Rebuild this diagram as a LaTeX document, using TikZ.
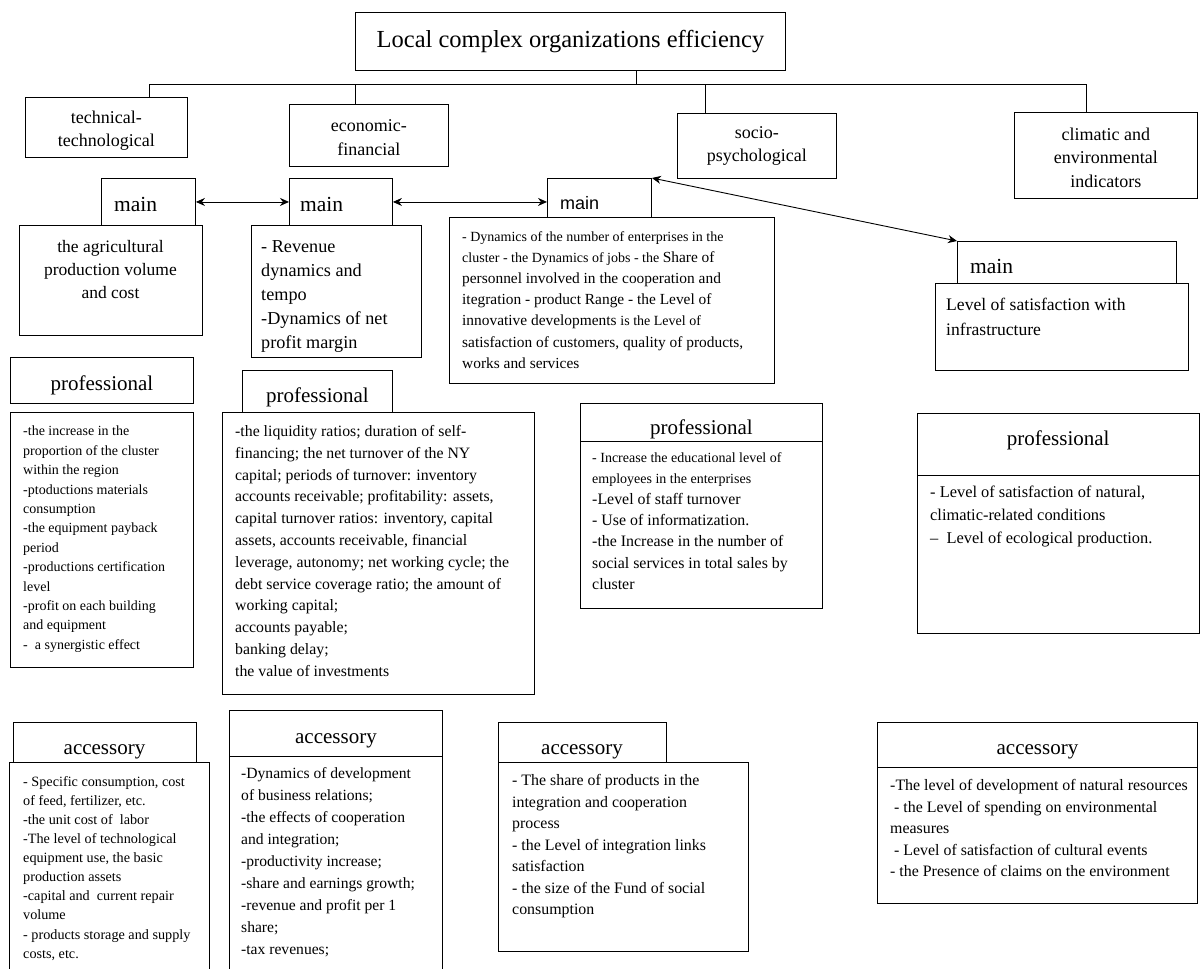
\documentclass[tikz,border=0pt]{standalone}
\usepackage{fontspec}
\setmainfont{Liberation Serif}
\newfontfamily\sansmain{Liberation Sans}
\usetikzlibrary{arrows.meta}
\newcommand\fs[2]{\fontsize{#1}{#2}\selectfont}
\newcommand\dn[2]{\raisebox{-#1pt}[\height][\depth]{#2}}
\newcommand\bx[7][]{%
  \pgfmathsetmacro\bw{#5-#3}\pgfmathsetmacro\bh{#6-#4}%
  \node[box,minimum width=\bw pt,minimum height=\bh pt,#1] (#2) at (#3,#4) {#7};}
\begin{document}
\begin{tikzpicture}[x=1pt,y=-1pt,
  box/.style={draw,line width=0.9pt,inner sep=0pt,anchor=north west,fill=white,align=center},
  hd/.style={font=\fs{18}{23.5}},
  pf/.style={font=\fs{21}{24}},
  mn/.style={anchor=base west,inner sep=0pt,font=\fs{21.5}{24}},
  txt/.style={anchor=north west,inner sep=0pt,align=left},
  link/.style={line width=0.9pt},
  biarrow/.style={line width=0.9pt,{Stealth[length=9pt,width=8pt]}-{Stealth[length=9pt,width=8pt]}}]
\useasboundingbox (0,0) rectangle (1200,969);
\clip (0,0) rectangle (1200,969);

% top level
\bx[font=\fs{24.5}{28}]{title}{355}{12}{785}{70}{Local complex organizations efficiency}
\bx[hd]{tech}{25}{97}{187}{157}{\dn{3}{technical-}\\\dn{3}{technological}}
\bx[hd]{econ}{289}{104}{448}{166}{\dn{2}{economic-}\\\dn{2}{financial}}
\bx[hd]{socio}{677}{113}{836}{178}{socio-\\psychological}
\bx[hd]{clim}{1014}{112}{1197}{198}{\dn{2}{climatic and}\\\dn{2}{environmental}\\\dn{2}{indicators}}

\coordinate (bt) at (636,84);
\coordinate (b1) at (149,84);
\coordinate (b2) at (355,84);
\coordinate (b3) at (705,84);
\coordinate (b4) at (1086,84);
\draw[link] (bt |- title.south) -- (bt);
\draw[link] (b1) -- (b4);
\draw[link] (b1) -- (b1 |- tech.north);
\draw[link] (b2) -- (b2 |- econ.north);
\draw[link] (b3) -- (b3 |- socio.north);
\draw[link] (b4) -- (b4 |- clim.north);

% main level
\bx{m1}{101}{178}{195}{225}{}
\bx{mb1}{19}{225}{202}{335}{}
\bx{m2}{289}{178}{392}{225}{}
\bx{mb2}{251}{225}{421}{357}{}
\bx{m3}{547}{178}{651}{217}{}
\bx{mb3}{449}{217}{774}{383}{}
\bx{m4}{957}{241}{1176}{283}{}
\bx{mb4}{935}{283}{1188}{370}{}

\node[mn] (tm1) at (114,211.5) {main};
\node[mn] (tm2) at (300,211.5) {main};
\node[mn,font=\sansmain\fs{18}{22}] (tm3) at (560,209) {main};
\node[mn] (tm4) at (970,273.5) {main};

\draw[biarrow] (m1.east) -- (m2.west);
\draw[biarrow] (m2.east) -- (m2.east -| m3.west);
\draw[biarrow] (m3.north east) -- (m4.north west);

\node[anchor=north,inner sep=0pt,align=center,font=\fs{17.5}{23}] (tb1) at (110.5,240.5)
  {the agricultural\\production volume\\and cost};
\node[txt,font=\fs{18.2}{24}] (tb2) at (261,240)
  {- Revenue\\dynamics and\\tempo\\-Dynamics of net\\profit margin};
\node[txt,font=\fs{15.4}{21.2}] (tb3) at (462,231)
  {\fs{14}{21.2}- Dynamics of the number of enterprises in the\\
   \fs{14}{21.2}cluster - the Dynamics of jobs - the \fs{15.4}{21.2}Share of\\
   personnel involved in the cooperation and\\
   itegration - product Range - the Level of\\
   innovative developments \fs{14}{21.2}is the Level of\\
   satisfaction of customers, quality of products,\\
   works and services};
\node[txt,font=\fs{17.6}{25}] (tb4) at (946,298.4)
  {Level of satisfaction with\\infrastructure};

% professional level
\bx[pf]{p1}{10}{357}{193}{403}{\dn{5}{professional}}
\bx{pb1}{10}{412}{193}{667}{}
\bx[pf]{p2}{242}{370}{392}{412}{\dn{6}{professional}}
\bx{pb2}{222}{412}{534}{694}{}
\bx[pf]{p3}{580}{403}{822}{441}{\dn{7}{professional}}
\bx{pb3}{580}{441}{822}{608}{}
\bx[pf]{p4}{917}{413}{1198.5}{475}{\raisebox{4pt}[\height][\depth]{professional}}
\bx{pb4}{917}{475}{1198.5}{633}{}

\node[txt,font=\fs{14}{19.4}] (tp1) at (23,426)
  {-the increase in the\\proportion of the cluster\\within the region\\-ptoductions materials\\consumption\\-the equipment payback\\period\\-productions certification\\level\\-profit on each building\\and equipment\\-\ \ a synergistic effect};
\node[txt,font=\fs{15.8}{21.8}] (tp2) at (235,425.2)
  {-the liquidity ratios; duration of self-\\financing; the net turnover of the NY\\capital; periods of turnover: inventory\\accounts receivable; profitability: assets,\\capital turnover ratios: inventory, capital\\assets, accounts receivable, financial\\leverage, autonomy; net working cycle; the\\debt service coverage ratio; the amount of\\working capital;\\accounts payable;\\banking delay;\\the value of investments};
\node[txt,font=\fs{15.9}{21.2}] (tp3) at (592,452)
  {\fs{14}{21.2}- Increase the educational level of\\
   \fs{14}{21.2}employees in the enterprises\\
   -Level of staff turnover\\- Use of informatization.\\-the Increase in the number of\\social services in total sales by\\cluster};
\node[txt,font=\fs{16.4}{23}] (tp4) at (930,486)
  {- Level of satisfaction of natural,\\climatic-related conditions\\--\ \ Level of ecological production.};

% accessory level
\bx{a1}{13}{722}{196}{762}{}
\node[inner sep=0pt,font=\fs{21}{24}] (ta1) at (104.5,752) {accessory};
\bx{ab1}{9}{762}{209}{975}{}
\bx[pf]{a2}{229}{710}{442}{756}{\dn{7}{accessory}}
\bx{ab2}{229}{756}{442}{975}{}
\bx{a3}{498}{722}{666}{762}{}
\node[inner sep=0pt,font=\fs{21}{24}] (ta3) at (582,752) {accessory};
\bx{ab3}{498}{762}{748}{951}{}
\bx[pf]{a4}{877}{722}{1197}{767}{\dn{7}{accessory}}
\bx{ab4}{877}{767}{1197}{903}{}

\node[txt,font=\fs{14.2}{19.1}] (tx1) at (23,776)
  {- Specific consumption, cost\\of feed, fertilizer, etc.\\-the unit cost of\ \ labor\\-The level of technological\\equipment use, the basic\\production assets\\-capital and\ \ current repair\\volume\\- products storage and supply\\costs, etc.};
\node[txt,font=\fs{15.6}{22}] (tx2) at (241,767.3)
  {-Dynamics of development\\of business relations;\\-the effects of cooperation\\and integration;\\-productivity increase;\\-share and earnings growth;\\-revenue and profit per 1\\share;\\-tax revenues;};
\node[txt,font=\fs{15.9}{21.5}] (tx3) at (512,774.2)
  {- The share of products in the\\integration and cooperation\\process\\- the Level of integration links\\satisfaction\\- the size of the Fund of social\\consumption};
\node[txt,font=\fs{15.9}{21.5}] (tx4) at (890,779.2)
  {-The level of development of natural resources\\\ - the Level of spending on environmental\\measures\\\ - Level of satisfaction of cultural events\\- the Presence of claims on the environment};
\end{tikzpicture}
\end{document}
